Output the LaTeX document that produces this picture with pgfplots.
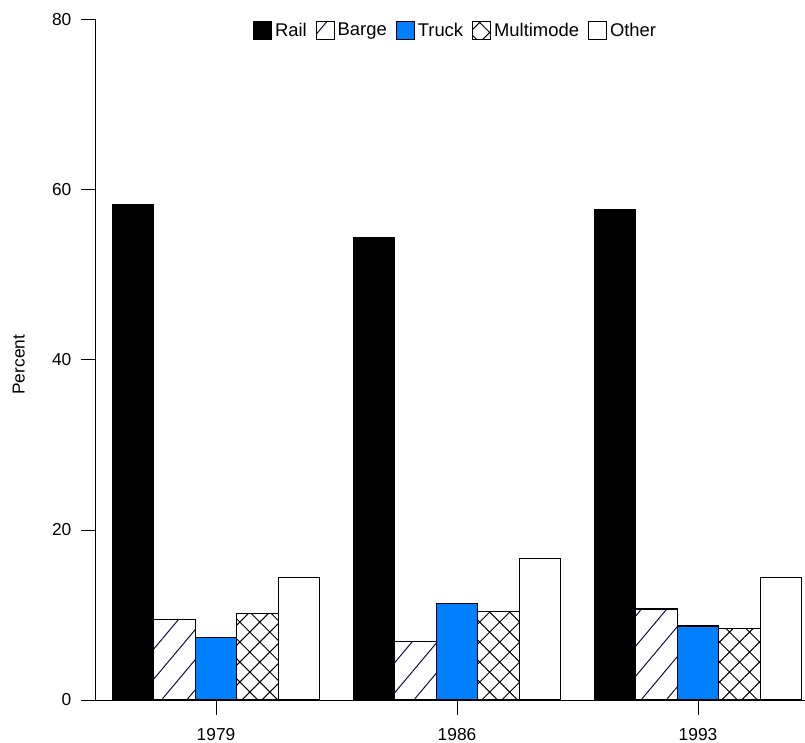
\documentclass[border=0pt]{standalone}
\usepackage{pgfplots}
\pgfplotsset{compat=1.18}
\usepackage{fontspec}
\setmainfont{Liberation Sans}
\usetikzlibrary{patterns.meta}
\definecolor{truckblue}{RGB}{0,128,255}
\definecolor{hatchnavy}{RGB}{16,16,64}

% 1px of the reference = 0.75pt
\begin{document}
\begin{tikzpicture}
\useasboundingbox (-72pt,-31.5pt) rectangle (531.75pt,525pt);
\begin{axis}[
    scale only axis,
    width=531.75pt, height=510pt,
    ybar=0pt, bar width=31.1pt,
    xmin=-0.498, xmax=2.444,
    ymin=0, ymax=80,
    xtick={0,1,2}, xticklabels={1979,1986,1993},
    ytick={0,20,40,60,80},
    axis lines=left,
    axis line style={-, line width=0.75pt},
    tick style={black, line width=0.75pt},
    tick align=outside,
    major tick length=11pt,
    tick label style={font=\fontsize{13}{15}\selectfont},
    xticklabel style={yshift=-6.5pt},
    yticklabel style={xshift=-4pt},
    /pgf/number format/assume math mode=true,
    ylabel={Percent},
    every axis y label/.style={at={(axis description cs:-0.1089,0.493)}, rotate=90,
        anchor=center, font=\fontsize{13}{15}\selectfont},
    legend style={at={(axis description cs:0.5078,1.0)}, anchor=north, draw=none,
        inner sep=0pt, font=\fontsize{13.8}{16}\selectfont,
        /tikz/every even column/.append style={column sep=5pt}},
    legend columns=-1,
    legend image code/.code={\draw[#1, line width=0.75pt] (0pt,-6.9pt) rectangle (13.5pt,6.9pt);},
]
\addplot[draw=black, line width=0.85pt, fill=black]
    coordinates {(0,58.3) (1,54.4) (2,57.7)};
\addplot[draw=black, line width=0.85pt,
    pattern={Lines[angle=50, distance=14.5pt, line width=0.75pt]}, pattern color=hatchnavy]
    coordinates {(0,9.5) (1,6.9) (2,10.7)};
\addplot[draw=black, line width=0.85pt, fill=truckblue]
    coordinates {(0,7.4) (1,11.4) (2,8.7)};
\addplot[draw=black, line width=0.85pt,
    pattern={Hatch[angle=45, distance=10.6pt, line width=0.75pt]}, pattern color=black]
    coordinates {(0,10.2) (1,10.4) (2,8.4)};
\addplot[draw=black, line width=0.85pt, fill=white]
    coordinates {(0,14.4) (1,16.6) (2,14.4)};
\legend{Rail, Barge, Truck, Multimode, Other}
\end{axis}
\end{tikzpicture}
\end{document}
